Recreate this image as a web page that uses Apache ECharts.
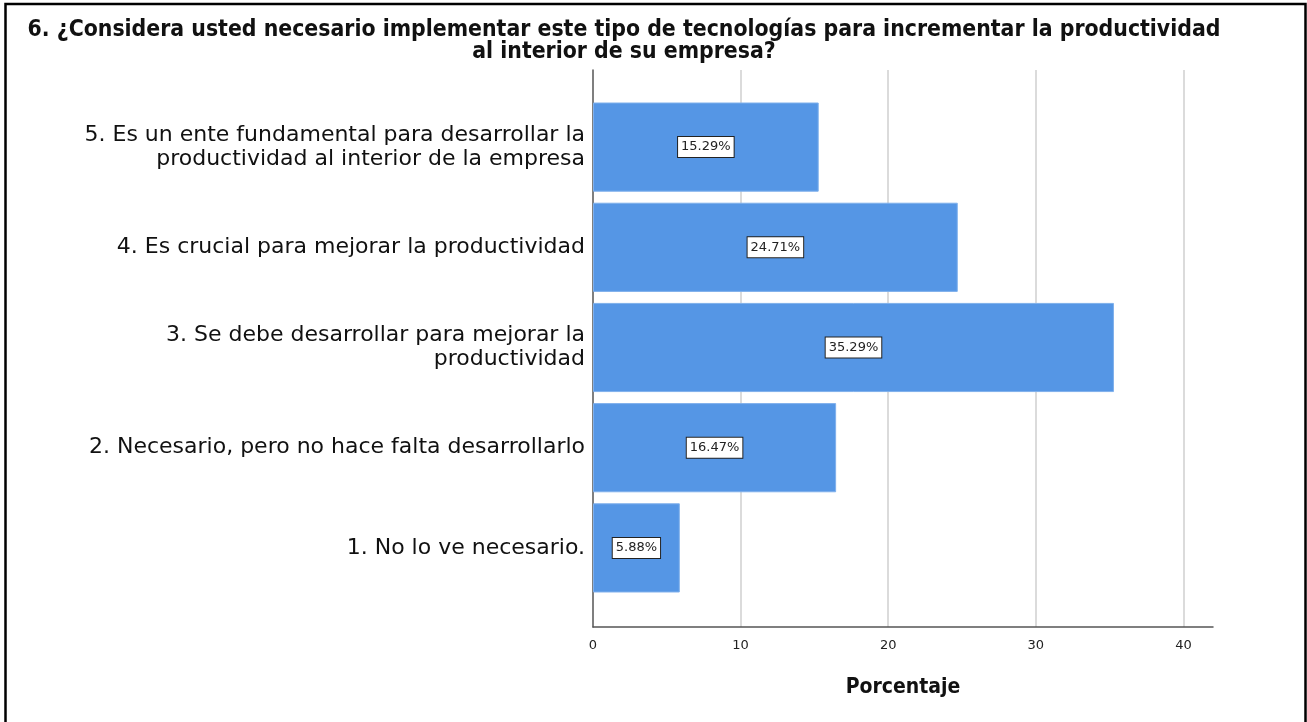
<!DOCTYPE html>
<html>
<head>
<meta charset="utf-8">
<script src="https://cdn.jsdelivr.net/npm/echarts@6/dist/echarts.min.js"></script>
<style>
  html, body { margin: 0; padding: 0; background: #fff; }
  #chart { width: 1307px; height: 722px; }
</style>
</head>
<body>
<div id="chart"></div>
<script>
// categories listed bottom to top, as the y category axis draws them
var categories = [
  "1. No lo ve necesario.",
  "2. Necesario, pero no hace falta desarrollarlo",
  "3. Se debe desarrollar para mejorar la\nproductividad",
  "4. Es crucial para mejorar la productividad",
  "5. Es un ente fundamental para desarrollar la\nproductividad al interior de la empresa"
];
var porcentaje = [5.88, 16.47, 35.29, 24.71, 15.29];
var xTicks = [0, 10, 20, 30, 40];

var chart = echarts.init(document.getElementById("chart"));

var left = 593, right = 1307 - 1213;

chart.setOption({
  animation: false,
  title: {
    text: "6. ¿Considera usted necesario implementar este tipo de tecnologías para incrementar la productividad\nal interior de su empresa?",
    left: 619,
    top: 14,
    textAlign: "center",
    textStyle: {
      fontFamily: "DejaVu Sans Condensed",
      fontWeight: "bold",
      fontSize: 22.8,
      lineHeight: 22,
      color: "#111"
    }
  },
  grid: [
    // frame grid: axis lines and split lines
    { left: left, right: right, top: 70, bottom: 722 - 627 },
    // bar grid: 100px bands
    { left: left, right: right, top: 97, bottom: 722 - 598 }
  ],
  xAxis: [
    {
      gridIndex: 0,
      type: "value",
      min: 0,
      max: 42,
      interval: 10,
      name: "Porcentaje",
      nameLocation: "middle",
      nameGap: 50,
      nameTextStyle: {
        fontFamily: "DejaVu Sans Condensed",
        fontWeight: "bold",
        fontSize: 21,
        color: "#111"
      },
      axisLine: { show: true, lineStyle: { color: "#555", width: 1.5 } },
      axisTick: { show: false },
      axisLabel: {
        margin: 12,
        fontFamily: "DejaVu Sans",
        fontSize: 13,
        color: "#222",
        customValues: xTicks
      },
      splitLine: {
        show: true,
        showMinLine: false,
        showMaxLine: false,
        lineStyle: { color: "#cfcfcf", width: 1.5 }
      }
    },
    {
      gridIndex: 1,
      type: "value",
      min: 0,
      max: 42,
      show: false
    }
  ],
  yAxis: [
    {
      gridIndex: 0,
      type: "value",
      min: 0,
      max: 1,
      axisLine: { show: true, lineStyle: { color: "#555", width: 1.5 } },
      axisTick: { show: false },
      axisLabel: { show: false },
      splitLine: { show: false }
    },
    {
      gridIndex: 1,
      type: "category",
      data: categories,
      axisLine: { show: false },
      axisTick: { show: false },
      axisLabel: {
        margin: 8,
        fontFamily: "DejaVu Sans",
        fontSize: 22,
        lineHeight: 24,
        color: "#111",
        align: "right"
      }
    }
  ],
  series: [
    {
      type: "bar",
      xAxisIndex: 1,
      yAxisIndex: 1,
      data: porcentaje,
      barCategoryGap: "11%",
      itemStyle: {
        color: "#5596E5",
        borderColor: "#7fb0ec",
        borderWidth: 1
      },
      label: {
        show: true,
        position: "inside",
        formatter: function (p) { return p.value.toFixed(2) + "%"; },
        fontFamily: "DejaVu Sans",
        fontSize: 13,
        color: "#222",
        backgroundColor: "#fff",
        borderColor: "#222",
        borderWidth: 1,
        padding: [4, 3, 3, 3]
      }
    }
  ],
  graphic: [
    {
      type: "rect",
      shape: { x: 5.5, y: 4, width: 1300, height: 730 },
      style: { fill: "none", stroke: "#000", lineWidth: 2.5 },
      silent: true
    }
  ]
});
</script>
</body>
</html>
